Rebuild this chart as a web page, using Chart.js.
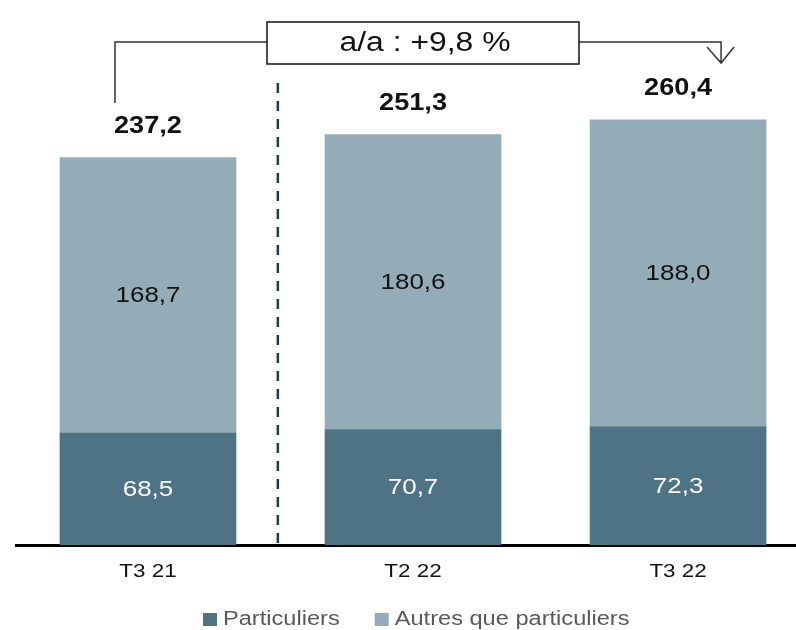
<!DOCTYPE html>
<html>
<head>
<meta charset="utf-8">
<script src="https://cdn.jsdelivr.net/npm/chart.js@4.4.0/dist/chart.umd.min.js"></script>
<style>
  html, body { margin: 0; padding: 0; background: #fff; overflow: hidden; }
  #wrap { width: 796px; height: 630px; position: relative; }
</style>
</head>
<body>
<div id="wrap"><canvas id="mycanvas"></canvas></div>
<script>
// quarterly volumes, stacked by client type
var categories = ["T3 21", "T2 22", "T3 22"];
var particuliers = [68.5, 70.7, 72.3];
var autres = [168.7, 180.6, 188.0];
var totals = [237.2, 251.3, 260.4];
var seriesNames = ["Particuliers", "Autres que particuliers"];
var seriesColors = ["#4e7385", "#94acb8"];
var growthLabel = "a/a : +9,8 %";

var FONT = "'Liberation Sans', Arial, sans-serif";
var STRETCH = 1.18;   // text is drawn a bit wider than the font

function fr(v) {
    return v.toFixed(1).replace('.', ',');
}

function points(arr) {
    var out = [];
    for (var i in arr) {
        out.push({ x: Number(i), y: arr[i] });
    }
    return out;
}

function wideText(ctx, txt, x, y, font, color, align) {
    ctx.save();
    ctx.font = font;
    ctx.fillStyle = color;
    ctx.textAlign = align || 'center';
    ctx.textBaseline = 'middle';
    ctx.translate(x, y);
    ctx.scale(STRETCH, 1);
    ctx.fillText(txt, 0, 0);
    ctx.restore();
}

// value labels inside the segments and totals on top
var labelsPlugin = {
    id: 'barLabels',
    afterDatasetsDraw: function(chart) {
        var ctx = chart.ctx;
        chart.data.datasets.forEach(function(ds, d) {
            var meta = chart.getDatasetMeta(d);
            meta.data.forEach(function(el, i) {
                wideText(ctx, fr(ds.data[i].y), el.x, (el.y + el.base) / 2 + 1,
                    '22px ' + FONT, d === 0 ? '#ffffff' : '#111111');
            });
        });
        var top = chart.getDatasetMeta(1);
        top.data.forEach(function(el, i) {
            wideText(ctx, fr(totals[i]), el.x, el.y - 31, 'bold 23px ' + FONT, '#111111');
        });
    }
};

// category labels, legend, separator and the growth bracket
var notesPlugin = {
    id: 'notes',
    afterDraw: function(chart) {
        var ctx = chart.ctx;
        var xs = chart.scales.x;
        var area = chart.chartArea;

        categories.forEach(function(c, i) {
            wideText(ctx, c, xs.getPixelForValue(i), area.bottom + 27, '19px ' + FONT, '#111111');
        });

        // legend
        var lx = 203, ly = 619;
        ctx.save();
        ctx.font = '20px ' + FONT;
        seriesNames.forEach(function(name, i) {
            ctx.fillStyle = seriesColors[i];
            ctx.fillRect(lx, ly - 6, 14, 13);
            wideText(ctx, name, lx + 20, ly, '20px ' + FONT, '#595959', 'left');
            lx += 20 + ctx.measureText(name).width * STRETCH + 35;
        });
        ctx.restore();

        ctx.save();
        var sx = xs.getPixelForValue(0.49);
        ctx.strokeStyle = '#1f3a4a';
        ctx.lineWidth = 2.5;
        ctx.setLineDash([10, 8]);
        ctx.beginPath();
        ctx.moveTo(sx, 83);
        ctx.lineTo(sx, area.bottom);
        ctx.stroke();
        ctx.setLineDash([]);

        var x0 = xs.getPixelForValue(0) - 33;
        var x1 = xs.getPixelForValue(2) + 43;
        var boxL = 267, boxR = 579, boxT = 22, boxB = 64, by = 42;

        ctx.strokeStyle = '#333333';
        ctx.lineWidth = 1.5;
        ctx.beginPath();
        ctx.moveTo(x0, 103);
        ctx.lineTo(x0, by);
        ctx.lineTo(boxL, by);
        ctx.moveTo(boxR, by);
        ctx.lineTo(x1, by);
        ctx.lineTo(x1, 63);
        ctx.moveTo(x1 - 14, 47);
        ctx.lineTo(x1, 63);
        ctx.lineTo(x1 + 13, 47);
        ctx.stroke();

        ctx.fillStyle = '#ffffff';
        ctx.fillRect(boxL, boxT, boxR - boxL, boxB - boxT);
        ctx.strokeStyle = '#111111';
        ctx.strokeRect(boxL, boxT, boxR - boxL, boxB - boxT);
        ctx.restore();

        wideText(ctx, growthLabel, (boxL + boxR) / 2 + 2, (boxT + boxB) / 2 + 1, '27px ' + FONT, '#111111');
    }
};

var ctx = document.getElementById('mycanvas');
var barGraph = new Chart(ctx, {
    type: 'bar',
    data: {
        datasets: [{
            label: seriesNames[0],
            data: points(particuliers),
            backgroundColor: seriesColors[0],
            barThickness: 176
        }, {
            label: seriesNames[1],
            data: points(autres),
            backgroundColor: seriesColors[1],
            barThickness: 176
        }]
    },
    options: {
        responsive: true,
        maintainAspectRatio: false,
        animation: false,
        layout: { padding: { left: 16, right: 0, top: 55, bottom: 85 } },
        scales: {
            x: {
                type: 'linear',
                stacked: true,
                offset: false,
                min: -0.498,
                max: 2.445,
                grid: { display: false, drawTicks: false },
                border: { display: true, color: '#000000', width: 3 },
                ticks: { display: false }
            },
            y: {
                stacked: true,
                display: false,
                min: 0,
                max: 300
            }
        },
        plugins: {
            legend: { display: false },
            tooltip: { enabled: false }
        }
    },
    plugins: [labelsPlugin, notesPlugin]
});
</script>
</body>
</html>
